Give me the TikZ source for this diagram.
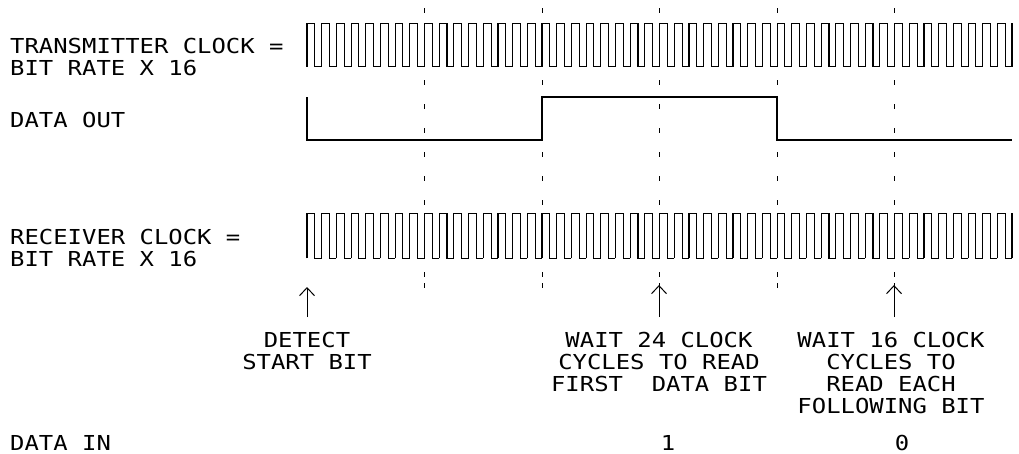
\documentclass[tikz,border=0pt]{standalone}
\usepackage{fontspec}
\newfontfamily\cadfont{DejaVu Sans Mono}[FakeStretch=1.16]
\usetikzlibrary{arrows.meta}
\newcommand{\clk}[2]{\foreach \k in {0,...,47}{\pgfmathsetmacro{\xa}{307+14.69*\k} \draw[wave] (\xa,#2) -- (\xa,#1) -- (\xa+7.8,#1) -- (\xa+7.8,#2) -- (\xa+14.69,#2);} \draw[wave] (1012,#2) -- (1012,#1);}
\newcommand{\tick}[1]{\draw[grid] (#1,8) -- (#1,205); \draw[grid, dash pattern=on 4.5pt off 6.5pt] (#1,272) -- (#1,288);}

\begin{document}
\begin{tikzpicture}[x=1pt, y=-1pt,
    wave/.style={line width=1.1pt},
    grid/.style={line width=1pt, dash pattern=on 4.5pt off 19.5pt},
    lbl/.style={font=\cadfont\fontsize{20.6}{22}\selectfont, inner sep=0pt, text depth=0pt, align=left, anchor=north west},
    note/.style={font=\cadfont\fontsize{20.6}{22}\selectfont, inner sep=0pt, text depth=0pt, align=center, anchor=north},
    >={Straight Barb[length=8pt,width=15pt]}]
            \useasboundingbox (0,0) rectangle (1019,453);
            % bit boundaries
            \foreach \j in {1,...,5}{\tick{307+117.5*\j}}
            % transmitter
            \node[lbl] (txclk) at (10,38) {TRANSMITTER CLOCK =\\BIT RATE X 16};
            \clk{23.3}{66.7}
            \node[lbl] (dout) at (10,112) {DATA OUT};
            \draw[wave] (307,97) -- (307,140) -- (542,140) -- (542,97) -- (777,97) -- (777,140) -- (1012,140);
            % receiver
            \node[lbl] (rxclk) at (10,229) {RECEIVER CLOCK =\\BIT RATE X 16};
            \clk{213.3}{258.3}
            % sampling points
            \node[note] (detect) at (307,332) {DETECT\\START BIT};
            \node[note] (wait24) at (659,332) {WAIT 24 CLOCK\\CYCLES TO READ\\FIRST\ \ DATA BIT};
            \node[note] (wait16) at (891,332) {WAIT 16 CLOCK\\CYCLES TO\\READ EACH\\FOLLOWING BIT};
            \coordinate (s0) at (307,317); \coordinate (t0) at (307,287);
            \coordinate (s1) at (659,317); \coordinate (t1) at (659,285);
            \coordinate (s2) at (894,317); \coordinate (t2) at (894,285);
            \draw[wave, line width=1pt, ->] (s0) -- (t0);
            \draw[wave, line width=1pt, ->] (s1) -- (t1);
            \draw[wave, line width=1pt, ->] (s2) -- (t2);
            % data in
            \node[lbl, anchor=base west] (din) at (10,450) {DATA IN};
            \node[note, anchor=base] (bit1) at (668,450) {1};
            \node[note, anchor=base] (bit0) at (902,450) {0};
        \end{tikzpicture}
\end{document}
